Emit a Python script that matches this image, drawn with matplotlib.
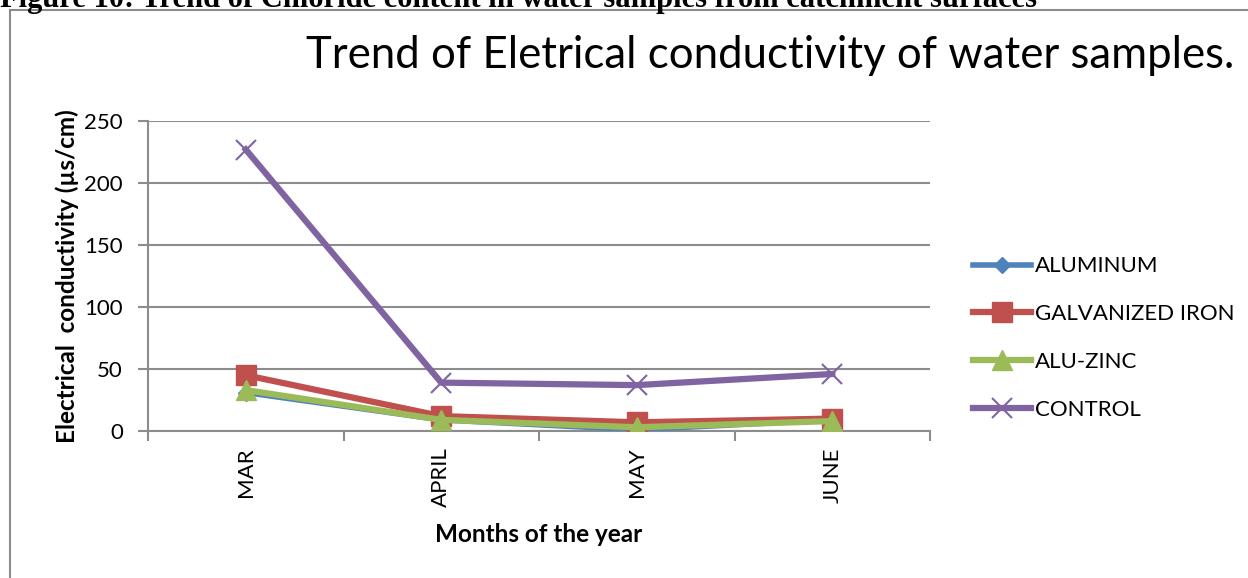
import numpy as np
import matplotlib
matplotlib.use("Agg")
from matplotlib import pyplot as plt
from matplotlib.patches import Rectangle

plt.rcParams.update({"font.family": "Lato", "font.size": 13})

months = ["MAR", "APRIL", "MAY", "JUNE"]
aluminum = [31, 9, 1, 9]
galvanized = [45, 12, 7, 10]
alu_zinc = [33, 9, 3, 8]
control = [227, 39, 37, 46]

fig = plt.figure(figsize=(12.48, 5.78), dpi=100)

# frame of the chart object, clipped by the page edge
fig.patches.append(Rectangle((10 / 1248, -0.1), 1.2, 1.1 - 10 / 578,
                             transform=fig.transFigure, fill=False,
                             edgecolor="#8c8c8c", linewidth=1.5))

# caption line above the chart, only its lower half is on the page
fig.text(0.0, 1 - 7 / 578, "Figure 10: Trend of Chloride content in water samples from catchment surfaces",
         fontsize=22, fontweight="bold", family="Liberation Serif",
         ha="left", va="baseline")

ax = fig.add_axes([148 / 1248, 1 - 431 / 578, (930 - 148) / 1248, (431 - 121) / 578])
x = np.arange(len(months))

ax.plot(x, aluminum, color="#4F81BD", lw=4, marker="D", ms=8, label="ALUMINUM", zorder=3)
ax.plot(x, galvanized, color="#C0504D", lw=4.5, marker="s", ms=14, label="GALVANIZED IRON", zorder=4)
ax.plot(x, alu_zinc, color="#9BBB59", lw=4.5, marker="^", ms=15, label="ALU-ZINC", zorder=5)
ax.plot(x, control, color="#8064A2", lw=4.5, marker="x", ms=15, mew=1.5, label="CONTROL", zorder=6)

ax.set_xlim(-0.5, len(months) - 0.5)
ax.set_ylim(0, 250)
ax.set_yticks(range(0, 251, 50))
ax.set_xticks(x)
ax.set_xticklabels(months, rotation=90, fontsize=16)
ax.set_xticks(np.arange(-0.5, len(months), 1), minor=True)
ax.tick_params(axis="x", which="major", length=0, pad=12)
ax.tick_params(axis="x", which="minor", length=7, color="#8c8c8c", width=1.5)
ax.tick_params(axis="y", length=7, color="#8c8c8c", width=1.5, labelsize=16, pad=11)

ax.grid(axis="y", color="#8c8c8c", lw=1.5)
ax.set_axisbelow(True)
for side in ["top", "right"]:
    ax.spines[side].set_visible(False)
for side in ["left", "bottom"]:
    ax.spines[side].set_color("#8c8c8c")
    ax.spines[side].set_linewidth(1.5)

ax.set_ylabel("Electrical  conductivity (µs/cm)", fontsize=17.5, fontweight="bold", labelpad=4)
ax.set_xlabel("Months of the year", fontsize=17.5, fontweight="bold", labelpad=11)

fig.text(770 / 1248, 1 - 55 / 578, "Trend of Eletrical conductivity of water samples.",
         fontsize=31.5, ha="center", va="center")

ax.legend(loc="center left", bbox_to_anchor=(1.03, 0.3), frameon=False,
          fontsize=16, handlelength=2.6, handletextpad=0.15, labelspacing=1.25)

plt.savefig("out.png", dpi=100)
